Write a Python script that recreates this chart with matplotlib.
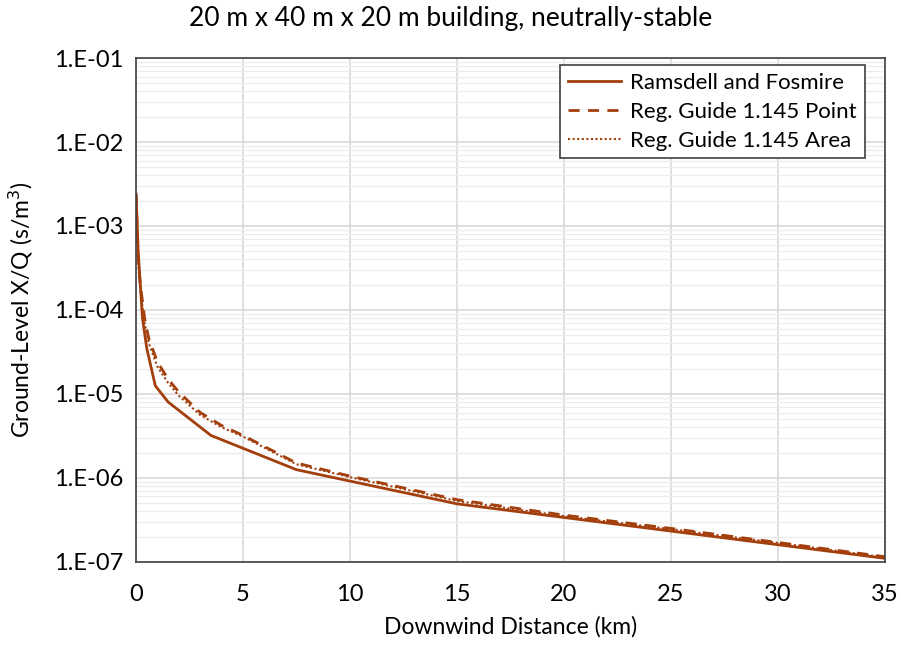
import matplotlib
matplotlib.use("Agg")
import matplotlib.pyplot as plt
from matplotlib.ticker import LogLocator, FixedLocator, NullFormatter

plt.rcParams['font.family'] = ['Lato', 'DejaVu Sans']

# Ramsdell and Fosmire
rf_km = [0.0, 0.1, 0.3, 0.5, 0.9, 1.5, 3.5, 7.5, 15, 35]
rf_xq = [2.4e-3, 5.0e-4, 8.0e-5, 3.5e-5, 1.25e-5, 8.0e-6, 3.2e-6, 1.25e-6, 4.9e-7, 1.1e-7]

# Reg. Guide 1.145
rg_km = [0.0, 0.1, 0.2, 0.4, 0.6, 1, 1.5, 2, 3, 4, 5, 7.5, 10, 15, 20, 25, 30, 35]
pt_xq = [2.4e-3, 4.0e-4, 2.0e-4, 8.0e-5, 4.5e-5, 2.4e-5, 1.5e-5, 1.05e-5, 6.0e-6, 4.2e-6,
         3.2e-6, 1.5e-6, 1.05e-6, 5.5e-7, 3.6e-7, 2.5e-7, 1.7e-7, 1.15e-7]
ar_xq = [2.4e-3, 3.6e-4, 1.7e-4, 7.0e-5, 4.0e-5, 2.1e-5, 1.35e-5, 9.5e-6, 5.6e-6, 4.0e-6,
         3.1e-6, 1.45e-6, 1.02e-6, 5.3e-7, 3.5e-7, 2.45e-7, 1.68e-7, 1.13e-7]

yticks = [1e-7, 1e-6, 1e-5, 1e-4, 1e-3, 1e-2, 1e-1]
ylabels = ["1.E-07", "1.E-06", "1.E-05", "1.E-04", "1.E-03", "1.E-02", "1.E-01"]
xticks = [0, 5, 10, 15, 20, 25, 30, 35]

col = "#A33F0D"

fig = plt.figure(figsize=(9.01, 6.45), dpi=100)
ax = fig.add_axes([0.151, 0.129, 0.831, 0.781])

ax.plot(rf_km, rf_xq, color=col, lw=2, label="Ramsdell and Fosmire")
ax.plot(rg_km, pt_xq, color=col, lw=2, ls=(0, (4, 3)), label="Reg. Guide 1.145 Point")
ax.plot(rg_km, ar_xq, color=col, lw=1.5, ls=(0, (1, 1.2)), label="Reg. Guide 1.145 Area")

ax.set_yscale("log")
ax.set_ylim(1e-7, 1e-1)
ax.set_xlim(0, 35)
ax.set_yticks(yticks)
ax.set_yticklabels(ylabels)
ax.yaxis.set_minor_locator(LogLocator(base=10, subs=range(2, 10)))
ax.yaxis.set_minor_formatter(NullFormatter())
ax.xaxis.set_major_locator(FixedLocator(xticks))

ax.grid(which="major", color="#d9d9d9", lw=1.2)
ax.grid(which="minor", axis="y", color="#ececec", lw=0.9)
ax.set_axisbelow(True)
ax.tick_params(which="both", length=0, labelsize=17, colors="#000000")
ax.tick_params(axis="x", pad=16)
ax.tick_params(axis="y", pad=9)
for s in ax.spines.values():
    s.set_color("#404040")
    s.set_linewidth(1.2)

ax.set_xlabel("Downwind Distance (km)", fontsize=16.5, labelpad=8)
ax.set_ylabel("Ground-Level X/Q (s/m$^3$)", fontsize=16.5, labelpad=14)
fig.text(0.5, 0.972, "20 m x 40 m x 20 m building, neutrally-stable", fontsize=19,
         ha="center", va="center")

leg = ax.legend(loc="upper right", bbox_to_anchor=(0.973, 0.986), borderaxespad=0,
                fontsize=16, fancybox=False, edgecolor="#404040", framealpha=1,
                handlelength=2.4, borderpad=0.35, labelspacing=0.4, handletextpad=0.4)
leg.get_frame().set_linewidth(1.2)

fig.savefig("out.png", dpi=100)
